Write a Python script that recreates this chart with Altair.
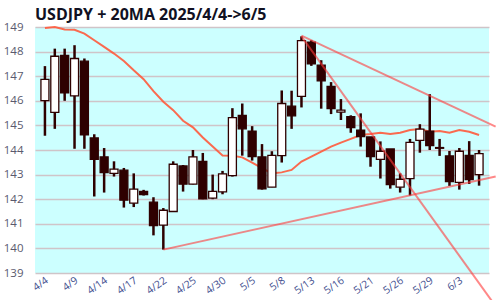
import json
import altair as alt
import pandas as pd

dates = ["4/4","4/7","4/8","4/9","4/10","4/11","4/14","4/15","4/16","4/17","4/18",
         "4/21","4/22","4/23","4/24","4/25","4/28","4/29","4/30","5/1","5/2",
         "5/5","5/6","5/7","5/8","5/9","5/12","5/13","5/14","5/15","5/16",
         "5/19","5/20","5/21","5/22","5/23","5/26","5/27","5/28","5/29","5/30",
         "6/2","6/3","6/4","6/5"]
opens = [146.01,145.53,147.85,146.20,147.61,144.49,143.72,143.05,143.18,141.84,142.32,
         141.88,140.95,141.50,143.35,142.61,143.54,142.04,142.30,142.96,145.41,
         144.77,143.72,142.49,143.77,145.78,146.18,148.38,147.45,146.59,145.54,
         145.36,144.81,144.53,143.62,144.04,142.49,142.84,144.39,144.77,144.10,
         143.76,142.68,143.78,143.00]
closes = [146.87,147.81,146.32,147.72,144.62,143.62,143.08,143.22,141.96,142.41,142.19,
          140.93,141.55,143.42,142.61,143.72,142.01,142.32,143.03,145.32,144.86,
          143.73,142.42,143.78,145.89,145.39,148.45,147.50,146.81,145.68,145.62,
          144.91,144.54,143.73,143.95,142.59,142.81,144.31,144.85,144.18,144.07,
          142.72,143.95,142.80,143.85]
highs = [147.41,148.12,148.12,148.26,147.72,144.64,144.08,143.54,143.27,143.05,142.38,
         142.08,141.64,143.54,143.39,144.00,143.88,143.00,143.15,145.70,145.89,
         144.97,144.24,143.95,146.42,146.41,148.62,148.46,147.65,146.76,146.07,
         145.41,145.49,144.53,144.35,144.04,143.05,144.45,145.05,146.27,144.45,
         143.96,144.08,144.36,144.00]
lows = [144.58,144.86,146.00,144.05,144.05,142.11,142.27,142.92,141.66,141.68,142.15,
        140.53,139.95,141.48,142.31,142.60,142.00,142.00,142.20,142.92,143.77,
        143.57,142.39,142.49,143.49,144.86,145.73,147.42,145.68,145.46,145.22,
        144.70,144.14,143.32,142.84,142.43,142.27,142.15,143.89,144.00,143.76,
        142.54,142.39,142.62,142.55]
ma20 = [148.96,149.00,148.90,148.89,148.73,148.46,148.19,147.92,147.62,147.24,146.88,
        146.39,145.96,145.62,145.19,144.92,144.51,144.14,143.78,143.77,143.70,
        143.49,143.26,143.05,143.09,143.19,143.53,143.73,143.93,144.14,144.30,
        144.45,144.61,144.65,144.70,144.65,144.70,144.81,144.85,144.74,144.77,
        144.70,144.81,144.74,144.61]

# trend lines: start index, start value, end index, end value
trend_x1 = [12, 26, 26]
trend_y1 = [139.95, 148.65, 148.62]
trend_x2 = [45.68, 45.68, 45.68]
trend_y2 = [142.92, 144.95, 137.65]

df = pd.DataFrame({"i": list(range(len(dates))), "date": dates, "open": opens,
                   "close": closes, "high": highs, "low": lows, "ma": ma20})
tl = pd.DataFrame({"x1": trend_x1, "y1": trend_y1, "x2": trend_x2, "y2": trend_y2})

DARK = "#2e0000"
label_expr = json.dumps(dates) + "[datum.value]"

xs = alt.Scale(domain=[-0.5, len(dates) - 0.5], nice=False, zero=False)
ys = alt.Scale(domain=[139, 149], nice=False, zero=False)

x_axis = alt.Axis(values=list(range(0, len(dates), 3)), labelExpr=label_expr, title=None,
                  grid=False, domain=False, ticks=False, labelAngle=-35, labelAlign="right",
                  labelBaseline="top", labelPadding=2, labelOffset=-1, labelFont="Open Sans",
                  labelFontSize=10.5, labelColor="#44508f", labelOverlap=False)
y_axis = alt.Axis(values=list(range(139, 150)), title=None, domain=False, ticks=False,
                  labelPadding=12, labelFont="Open Sans", labelFontSize=11.5,
                  labelColor="#5a5a6e", gridColor="#cfc4c8", gridWidth=1.5,
                  labelOverlap=False)

base = alt.Chart(df)
x = alt.X("i:Q", scale=xs, axis=x_axis)
y_ma = alt.Y("ma:Q", scale=ys, axis=y_axis)

ma_line = base.mark_line(color="#ff5a3c", strokeWidth=2, opacity=0.9).encode(x=x, y=y_ma)
wick = base.mark_rule(color=DARK, strokeWidth=2.5).encode(
    x=x, y=alt.Y("low:Q", scale=ys, axis=y_axis), y2="high:Q")
body = base.mark_bar(size=8, strokeWidth=1.3).encode(
    x=x, y=alt.Y("open:Q", scale=ys, axis=y_axis), y2="close:Q",
    fill=alt.condition("datum.close > datum.open", alt.value("#ffffff"), alt.value(DARK)),
    stroke=alt.value(DARK))
trends = alt.Chart(tl).mark_rule(color="#ff3838", strokeWidth=2, opacity=0.6, clip=False).encode(
    x=alt.X("x1:Q", scale=xs, axis=x_axis), x2="x2:Q",
    y=alt.Y("y1:Q", scale=ys, axis=y_axis), y2="y2:Q")

chart = alt.layer(ma_line, wick, body, trends).properties(
    width=454, height=246,
    autosize=alt.AutoSizeParams(type="none"),
    padding={"left": 35, "top": 27, "right": 11, "bottom": 27},
    background="#ffffff",
    title=alt.TitleParams("USDJPY + 20MA 2025/4/4->6/5", anchor="start", frame="group",
                          fontSize=16, fontWeight="bold", font="Open Sans",
                          color="#111122", offset=-2),
).configure_view(fill="#ccffff", stroke=None).configure_axis(labelOverlap=False)

chart.save("out.html", embed_options={"renderer": "svg", "actions": False})
